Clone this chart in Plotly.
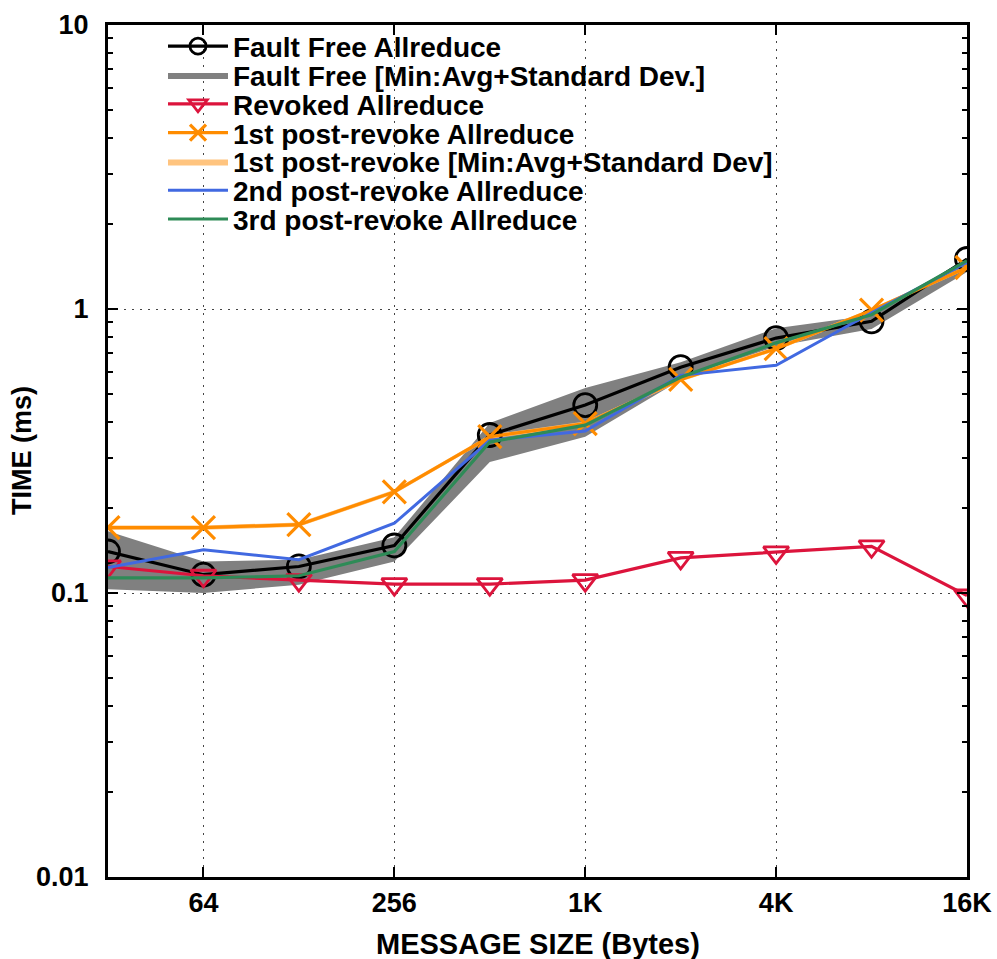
import plotly.graph_objects as go

# ---- data ----
sizes = [32, 64, 128, 256, 512, 1024, 2048, 4096, 8192, 16384]
ff_avg = [0.140, 0.116, 0.124, 0.147, 0.360, 0.459, 0.624, 0.790, 0.905, 1.50]
ff_min = [0.103, 0.100, 0.107, 0.129, 0.289, 0.355, 0.562, 0.740, 0.850, 1.35]
ff_max = [0.165, 0.129, 0.131, 0.157, 0.397, 0.527, 0.650, 0.855, 0.950, 1.51]
revoked = [0.124, 0.115, 0.111, 0.1075, 0.1075, 0.111, 0.133, 0.139, 0.146, 0.098]
post1 = [0.170, 0.170, 0.174, 0.227, 0.355, 0.395, 0.565, 0.725, 0.990, 1.40]
post1_min = [0.167, 0.167, 0.171, 0.223, 0.349, 0.388, 0.556, 0.713, 0.975, 1.38]
post1_max = [0.173, 0.173, 0.177, 0.231, 0.361, 0.402, 0.574, 0.737, 1.005, 1.42]
post2 = [0.123, 0.142, 0.131, 0.176, 0.345, 0.372, 0.584, 0.634, 0.970, 1.46]
post3 = [0.113, 0.113, 0.115, 0.140, 0.340, 0.390, 0.575, 0.760, 0.955, 1.48]

x_tickvals = [64, 256, 1024, 4096, 16384]
x_ticktext = ["64", "256", "1K", "4K", "16K"]
y_tickvals = [0.01, 0.1, 1, 10]
y_ticktext = ["0.01", "0.1", "1", "10"]
y_minor = [m * 10 ** e for e in (-2, -1, 0) for m in range(2, 10)]

x_title = "MESSAGE SIZE (Bytes)"
y_title = "TIME (ms)"

names = [
    "Fault Free Allreduce",
    "Fault Free [Min:Avg+Standard Dev.]",
    "Revoked Allreduce",
    "1st post-revoke Allreduce",
    "1st post-revoke [Min:Avg+Standard Dev]",
    "2nd post-revoke Allreduce",
    "3rd post-revoke Allreduce",
]

FONT = "Liberation Sans"
BLACK = "#000000"
GRAY = "#808080"
RED = "#DC143C"
ORANGE = "#FF8C00"
LORANGE = "#FFC47F"
BLUE = "#4169E1"
GREEN = "#2E8B57"

fig = go.Figure()

# bands
fig.add_trace(go.Scatter(
    x=sizes + sizes[::-1], y=ff_max + ff_min[::-1], fill="toself",
    fillcolor=GRAY, line=dict(width=0, color=GRAY), mode="lines",
    name=names[1], legend="legend2", hoverinfo="skip"))
fig.add_trace(go.Scatter(
    x=sizes + sizes[::-1], y=post1_max + post1_min[::-1], fill="toself",
    fillcolor=LORANGE, line=dict(width=0, color=LORANGE), mode="lines",
    name=names[4], legend="legend5", hoverinfo="skip"))

# lines
fig.add_trace(go.Scatter(
    x=sizes, y=ff_avg, mode="lines+markers", name=names[0], legend="legend",
    line=dict(color=BLACK, width=3.2),
    marker=dict(symbol="circle-open", size=23, color=BLACK, line=dict(width=2.8, color=BLACK))))
fig.add_trace(go.Scatter(
    x=sizes, y=revoked, mode="lines+markers", name=names[2], legend="legend3",
    line=dict(color=RED, width=3.2),
    marker=dict(symbol="triangle-down-open", size=22, color=RED, line=dict(width=2.8, color=RED))))
fig.add_trace(go.Scatter(
    x=sizes, y=post1, mode="lines+markers", name=names[3], legend="legend4",
    line=dict(color=ORANGE, width=3.2),
    marker=dict(symbol="x-thin-open", size=23, color=ORANGE, line=dict(width=3.2, color=ORANGE))))
fig.add_trace(go.Scatter(
    x=sizes, y=post2, mode="lines", name=names[5], legend="legend6",
    line=dict(color=BLUE, width=3)))
fig.add_trace(go.Scatter(
    x=sizes, y=post3, mode="lines", name=names[6], legend="legend7",
    line=dict(color=GREEN, width=3.2)))

# plot area geometry (px)
W, H = 997, 959
ML, MR, MT, MB = 108, 30, 25, 82
PW = W - ML - MR
PH = H - MT - MB

legend_font = dict(family=FONT, size=28, color="black", weight="bold")
legend_left_px = 163
row0 = 46.5
rowgap = 28.8
legend_layout = {}
for i, key in enumerate(["legend", "legend2", "legend3", "legend4", "legend5", "legend6", "legend7"]):
    py = row0 + i * rowgap
    legend_layout[key] = dict(
        x=(legend_left_px - ML) / PW, y=(H - MB - py) / PH,
        xanchor="left", yanchor="middle",
        bgcolor="rgba(0,0,0,0)", borderwidth=0,
        font=legend_font, itemwidth=60,
        tracegroupgap=0, itemclick=False,
    )

axis_common = dict(
    showline=True, linewidth=3, linecolor="black", mirror="allticks",
    ticks="inside", ticklen=10, tickwidth=2, tickcolor="black",
    showgrid=True, gridcolor="#444444", griddash="2px,6px", gridwidth=1,
    zeroline=False,
    tickfont=dict(family=FONT, size=27, color="black", weight="bold"),
)

fig.update_layout(
    width=W, height=H,
    margin=dict(l=ML, r=MR, t=MT, b=MB, autoexpand=False),
    paper_bgcolor="white", plot_bgcolor="white",
    showlegend=True,
    font=dict(family=FONT, color="black"),
    xaxis=dict(
        type="log", range=[1.50515, 4.21442],
        tickmode="array", tickvals=x_tickvals, ticktext=x_ticktext,
        ticklabelstandoff=0,
        automargin=False,
        **axis_common,
    ),
    yaxis=dict(
        type="log", range=[-2, 1],
        tickmode="array", tickvals=y_tickvals, ticktext=y_ticktext,
        ticklabelstandoff=11,
        minor=dict(tickmode="array", tickvals=y_minor, ticks="inside", ticklen=5,
                   tickwidth=2, tickcolor="black", showgrid=False),
        automargin=False,
        **axis_common,
    ),
    annotations=[
        dict(text=x_title, xref="paper", yref="paper", x=0.5,
             y=-(944 - (H - MB)) / PH, xanchor="center", yanchor="middle",
             showarrow=False, font=dict(family=FONT, size=29, color="black", weight="bold")),
        dict(text=y_title, xref="paper", yref="paper", x=-(ML - 22) / PW,
             y=0.5, xanchor="center", yanchor="middle", textangle=-90,
             showarrow=False, font=dict(family=FONT, size=27, color="black", weight="bold")),
    ],
    **legend_layout,
)

fig.write_html(
    "out.html",
    config={"displayModeBar": False},
    post_script="document.body.style.margin='0';document.body.style.overflow='hidden';",
)
